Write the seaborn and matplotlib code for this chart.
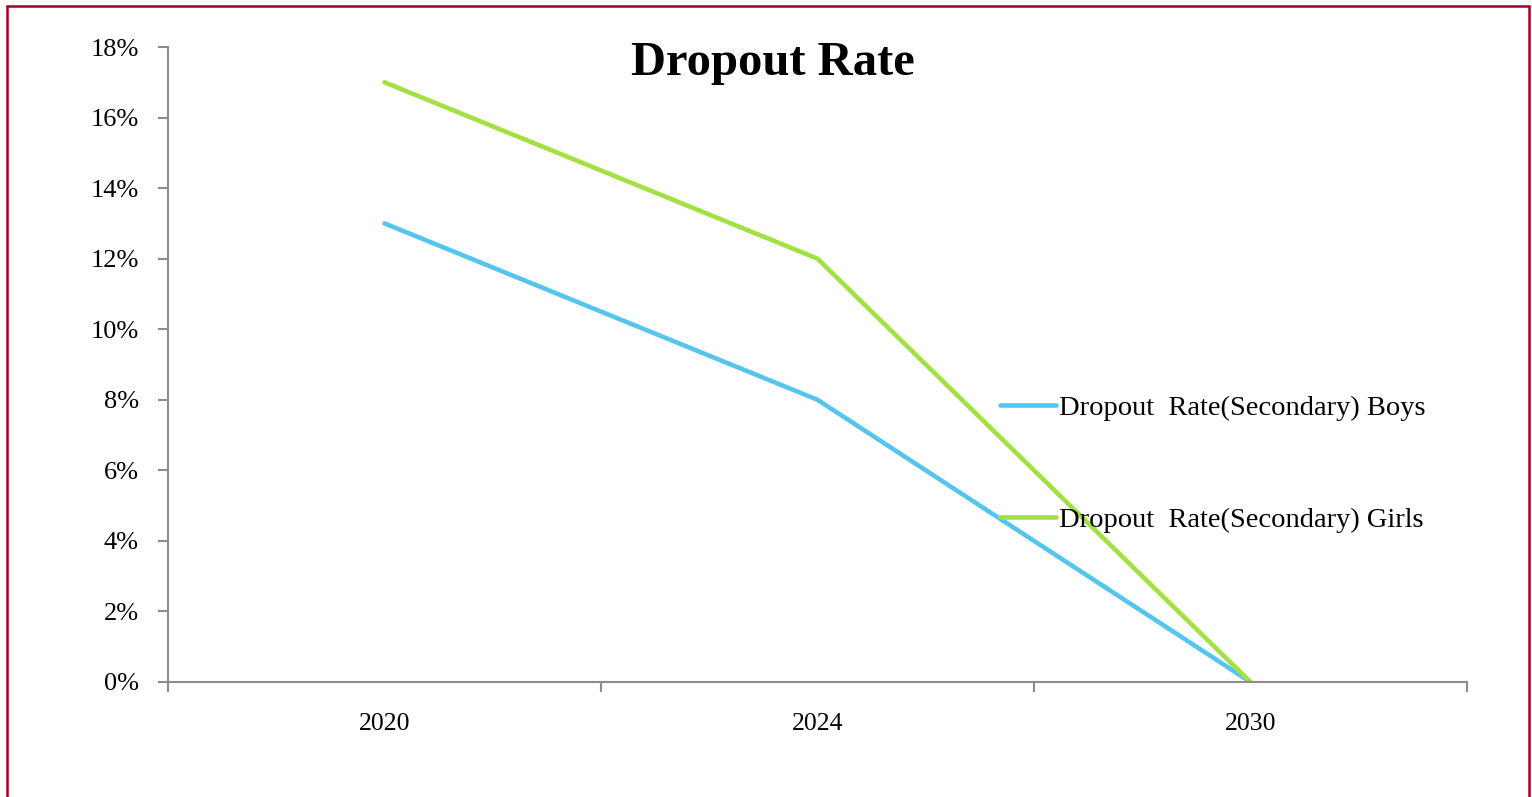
import numpy as np
import pandas as pd
import matplotlib
matplotlib.use('Agg')
import matplotlib.pyplot as plt
import seaborn as sns
from matplotlib.patches import Rectangle
from matplotlib.ticker import PercentFormatter, FixedLocator

# ─────────────────────────────────────────────────────────────────────────────
# Data
# ─────────────────────────────────────────────────────────────────────────────
YEARS       = ['2020', '2024', '2030']
BOYS        = [13, 8, 0]      # percent
GIRLS       = [17, 12, 0]     # percent
SERIES      = ['Dropout  Rate(Secondary) Boys', 'Dropout  Rate(Secondary) Girls']
COLORS      = ['#56C5EE', '#A2E043']
TITLE       = 'Dropout Rate'

W, H = 1532, 797

df = pd.DataFrame({
    'year'  : YEARS * 2,
    'value' : BOYS + GIRLS,
    'series': [SERIES[0]] * len(YEARS) + [SERIES[1]] * len(YEARS),
})
df['pos'] = df['year'].map({y: i for i, y in enumerate(YEARS)})

# ─────────────────────────────────────────────────────────────────────────────
# Plot
# ─────────────────────────────────────────────────────────────────────────────
sns.set_style('white')
plt.rcParams['font.family'] = ['Liberation Serif', 'DejaVu Serif']
plt.rcParams['text.color'] = 'black'
plt.rcParams['xtick.color'] = 'black'
plt.rcParams['ytick.color'] = 'black'

fig = plt.figure(figsize=(W / 100, H / 100), dpi=100)
ax = fig.add_axes([168 / W, (H - 682) / H, (1467 - 168) / W, (682 - 47) / H])

sns.lineplot(data=df, x='pos', y='value', hue='series', hue_order=SERIES,
             palette=COLORS, linewidth=3.3, ax=ax, legend=True,
             solid_capstyle='round')

ax.set_xlim(-0.5, len(YEARS) - 0.5)
ax.set_ylim(0, 18)
ax.yaxis.set_major_locator(FixedLocator(np.arange(0, 19, 2)))
ax.yaxis.set_major_formatter(PercentFormatter(100, decimals=0))

ax.set_xticks(range(len(YEARS)))
ax.set_xticklabels(YEARS)
ax.set_xticks(np.arange(-0.5, len(YEARS), 1.0), minor=True)
ax.tick_params(axis='x', which='major', length=0, pad=22, labelsize=18.5,
               labelcolor='black')
ax.tick_params(axis='x', which='minor', length=7, width=1.5, color='#8c8c8c',
               direction='out', bottom=True)
ax.tick_params(axis='y', length=7, width=1.5, color='#8c8c8c', direction='out',
               left=True, labelsize=19, pad=14, labelcolor='black')
ax.set_xlabel('')
ax.set_ylabel('')

for side in ['top', 'right']:
    ax.spines[side].set_visible(False)
for side in ['left', 'bottom']:
    ax.spines[side].set_color('#8c8c8c')
    ax.spines[side].set_linewidth(1.5)

handles, labels = ax.get_legend_handles_labels()
ax.legend(handles, labels, loc='center left', bbox_to_anchor=(0.632, 0.343),
          frameon=False, fontsize=20.5, handlelength=1.95, handletextpad=0.1,
          labelspacing=3.02, borderaxespad=0)

fig.text(773 / W, 1 - 63 / H, TITLE, ha='center', va='center',
         fontsize=35, fontweight='bold', color='black')

# chart border
fig.patches.append(Rectangle((7 / W, -0.05), (1529 - 7) / W, 1.05 - 5.5 / H,
                             transform=fig.transFigure, fill=False,
                             edgecolor='#A50021', linewidth=1.8))

fig.savefig('out.png', dpi=100)
plt.close(fig)
